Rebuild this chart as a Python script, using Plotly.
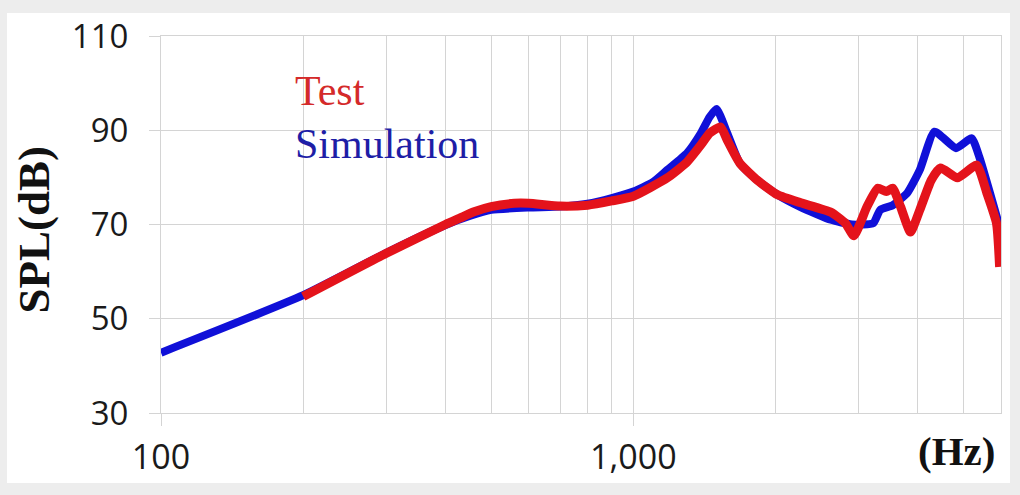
import plotly.graph_objects as go

# --- DATA ---
sim_freq = [100, 200, 300, 400, 450, 500, 600, 700, 800, 900, 1000, 1100, 1180, 1300,
            1390, 1450, 1500, 1580, 1680, 1830, 2020, 2260, 2620, 2900, 3220, 3330,
            3540, 3800, 4040, 4340, 4820, 5200, 5400, 5960]
sim_spl = [42.8, 55.0, 64.0, 69.9, 71.8, 73.1, 73.6, 73.8, 74.4, 75.6, 77.0, 79.0, 81.6, 85.2,
           89.4, 92.8, 94.5, 89.4, 83.0, 79.4, 76.3, 73.7, 71.0, 70.0, 70.3, 73.1,
           74.1, 76.7, 81.6, 89.7, 86.2, 88.3, 84.3, 69.5]

test_freq = [200, 300, 400, 430, 460, 500, 560, 600, 700, 800, 900, 1000, 1180, 1300,
             1390, 1450, 1530, 1580, 1680, 1830, 2020, 2260, 2620, 2810, 2930, 3120,
             3290, 3430, 3540, 3680, 3860, 4040, 4270, 4470, 4850, 5330, 5600, 5870, 5960]
test_spl = [54.7, 63.9, 70.0, 71.4, 72.7, 73.8, 74.5, 74.5, 73.9, 74.1, 75.0, 76.0, 79.9, 83.3,
            86.9, 89.4, 90.7, 87.9, 83.0, 79.4, 76.3, 74.6, 72.6, 70.3, 67.6, 73.7,
            77.7, 77.0, 77.7, 73.7, 68.4, 73.1, 79.4, 82.0, 79.9, 82.6, 76.7, 70.3, 61.0]

x_major = [100, 1000]
x_major_text = ["100", "1,000"]
x_minor = [200, 300, 400, 500, 600, 700, 800, 900, 2000, 3000, 4000, 5000, 6000]
y_ticks = [30, 50, 70, 90, 110]

GRID = '#d4d4d4'
BLUE = '#1010d8'
RED = '#e4131b'

fig = go.Figure()

fig.add_trace(go.Scatter(
    x=sim_freq, y=sim_spl, name='Simulation', mode='lines',
    line=dict(color=BLUE, width=8, shape='spline', smoothing=0.5)
))
fig.add_trace(go.Scatter(
    x=test_freq, y=test_spl, name='Test', mode='lines',
    line=dict(color=RED, width=9, shape='spline', smoothing=0.5)
))

fig.update_layout(
    width=1020, height=495, autosize=False,
    margin=dict(l=161, r=19, t=36, b=82),
    paper_bgcolor='#ededed',
    plot_bgcolor='white',
    showlegend=False,
    font=dict(family="Open Sans, sans-serif", size=32, color='#1a1a1a'),
)

fig.update_xaxes(
    type='log', range=[2, 3.7782],
    tickmode='array', tickvals=x_major, ticktext=x_major_text,
    ticks='outside', ticklen=12, tickcolor=GRID, tickwidth=1,
    ticklabelstandoff=2,
    showgrid=True, gridcolor=GRID, gridwidth=1,
    minor=dict(tickmode='array', tickvals=x_minor, showgrid=True, gridcolor=GRID, ticks=''),
    showline=True, mirror=True, linecolor=GRID, linewidth=1,
    zeroline=False, tickfont=dict(size=34),
)
fig.update_yaxes(
    range=[30, 110], tickmode='array', tickvals=y_ticks,
    ticks='outside', ticklen=11, tickcolor=GRID, tickwidth=1,
    ticklabelstandoff=14,
    showgrid=True, gridcolor=GRID, gridwidth=1,
    showline=True, mirror=True, linecolor=GRID, linewidth=1,
    zeroline=False, tickfont=dict(size=33),
)

# white card behind the chart
fig.add_shape(type='rect', xref='paper', yref='paper', layer='below',
              x0=-0.1833, x1=1.0107, y0=-0.1857, y1=1.061,
              fillcolor='white', line=dict(width=0))

serif = "Liberation Serif, Times New Roman, serif"
fig.add_annotation(text='Test', xref='paper', yref='paper', x=0.157, y=0.854,
                   xanchor='left', yanchor='middle', showarrow=False,
                   font=dict(family=serif, size=42, color='#d42a2a'))
fig.add_annotation(text='Simulation', xref='paper', yref='paper', x=0.157, y=0.7135,
                   xanchor='left', yanchor='middle', showarrow=False,
                   font=dict(family=serif, size=42, color='#1e1ea6'))
fig.add_annotation(text='<b>(Hz)</b>', xref='paper', yref='paper', x=0.9476, y=-0.1008,
                   xanchor='center', yanchor='middle', showarrow=False,
                   font=dict(family=serif, size=41, color='#111111'))
fig.add_annotation(text='<b>SPL(dB)</b>', xref='paper', yref='paper', x=-0.1512, y=0.4867,
                   xanchor='center', yanchor='middle', showarrow=False, textangle=-90,
                   font=dict(family=serif, size=45, color='#111111'))

# the page body has a default 8px margin; drop it so the figure fills the window
fig.write_html("out.html", config={'displayModeBar': False},
               post_script="document.body.style.margin='0';")
